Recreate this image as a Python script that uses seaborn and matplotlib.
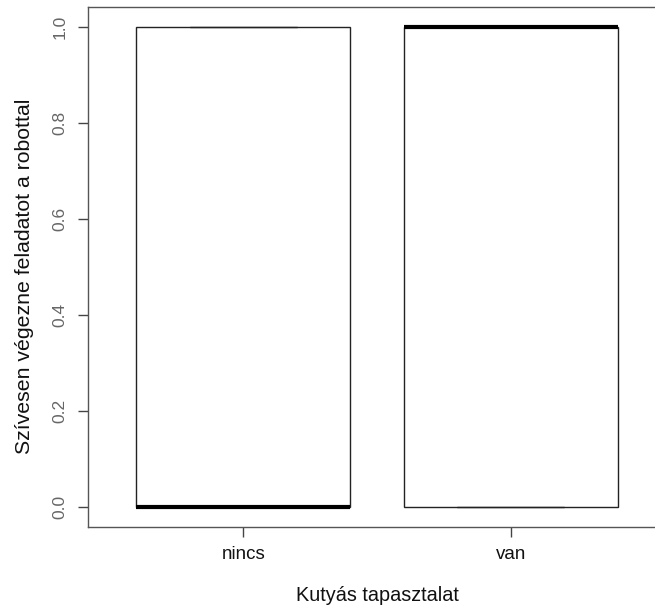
import matplotlib
matplotlib.use("Agg")
import matplotlib.pyplot as plt
import seaborn as sns
import pandas as pd

categories = ["nincs", "van"]
nincs_values = [0, 0, 0, 1, 1]
van_values = [0, 0, 1, 1, 1]
y_ticks = [0.0, 0.2, 0.4, 0.6, 0.8, 1.0]
x_label = "Kutyás tapasztalat"
y_label = "Szívesen végezne feladatot a robottal"

df = pd.DataFrame({
    "group": [categories[0]] * len(nincs_values) + [categories[1]] * len(van_values),
    "value": nincs_values + van_values,
})

sns.set_style("white")
plt.rcParams["font.family"] = ["Liberation Sans", "DejaVu Sans"]

fig = plt.figure(figsize=(6.55, 6.07), dpi=100)
ax = fig.add_axes([88 / 655, 80 / 607, 578 / 655, 520 / 607])

edge = "#222222"
sns.boxplot(data=df, x="group", y="value", order=categories, ax=ax,
            width=0.8, color="white", linecolor=edge, linewidth=1.0,
            whis=1.5, fliersize=0,
            medianprops=dict(color="black", linewidth=3.0),
            boxprops=dict(facecolor="white", edgecolor=edge, linewidth=1.0),
            whiskerprops=dict(color=edge, linewidth=1.0),
            capprops=dict(color=edge, linewidth=1.0))

ax.set_xlim(-0.58, 1.58)
ax.set_ylim(-0.0417, 1.0417)
ax.set_yticks(y_ticks)
ax.set_yticklabels([f"{t:.1f}" for t in y_ticks], rotation=90, va="center")
ax.tick_params(axis="both", direction="out", length=7, width=1.0, color="#444444",
               left=True, bottom=True)
ax.tick_params(axis="y", labelsize=12.5, labelcolor="#666666", pad=8)
ax.tick_params(axis="x", labelsize=13.5, labelcolor="#111111", pad=7)
for s in ax.spines.values():
    s.set_color("#555555")
    s.set_linewidth(1.0)
    s.set_visible(True)

ax.set_xlabel(x_label, fontsize=14.3, color="#111111", labelpad=16)
ax.set_ylabel(y_label, fontsize=15.3, color="#111111")
ax.yaxis.set_label_coords(-0.093, 0.483)

fig.savefig("out.png", dpi=100)
